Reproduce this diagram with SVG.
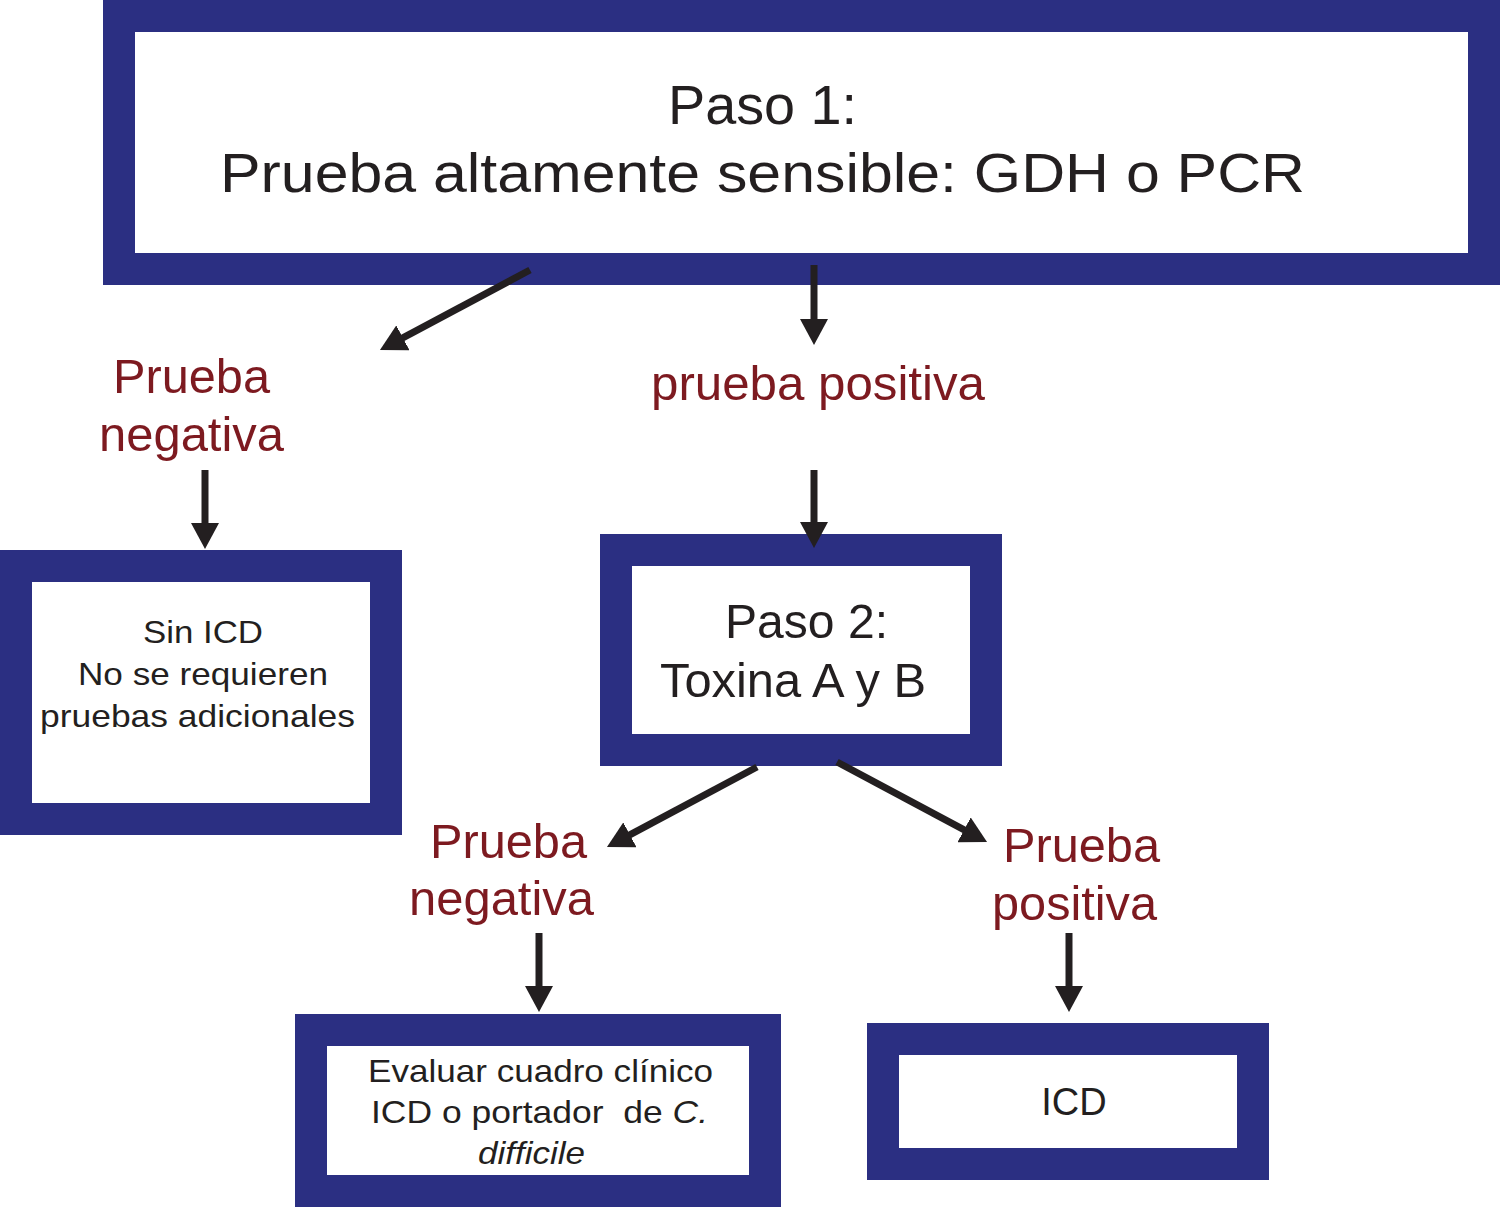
<svg xmlns="http://www.w3.org/2000/svg" width="1500" height="1207" viewBox="0 0 1500 1207">
<style>
.box{fill:#ffffff;stroke:#2b2f82;stroke-width:32}
.t{font-family:"Liberation Sans",Arial,Helvetica,sans-serif;fill:#231f20}
.r{font-family:"Liberation Sans",Arial,Helvetica,sans-serif;fill:#7d1a20;font-size:48px}
.c{stroke:#231f20;stroke-width:7;fill:none;marker-end:url(#ah)}
</style>
<defs>
<marker id="ah" viewBox="0 0 26 28" refX="6" refY="14" markerWidth="26" markerHeight="28" markerUnits="userSpaceOnUse" orient="auto">
<path d="M0,0 L26,14 L0,28 z" fill="#231f20"/>
</marker>
</defs>
<rect width="1500" height="1207" fill="#ffffff"/>
<g id="step1">
<rect class="box" x="119" y="16" width="1365" height="253"/>
<text class="t" x="668" y="124" font-size="55" textLength="189" lengthAdjust="spacingAndGlyphs">Paso 1:</text>
<text class="t" x="220" y="192" font-size="56" textLength="1085" lengthAdjust="spacingAndGlyphs">Prueba altamente sensible: GDH o PCR</text>
</g>
<g id="neg1">
<text class="r" x="113" y="393" textLength="157" lengthAdjust="spacingAndGlyphs">Prueba</text>
<text class="r" x="99" y="451" textLength="185" lengthAdjust="spacingAndGlyphs">negativa</text>
</g>
<g id="pos1">
<text class="r" x="651" y="400" textLength="334" lengthAdjust="spacingAndGlyphs">prueba positiva</text>
</g>
<g id="sinicd">
<rect class="box" x="16" y="566" width="370" height="253"/>
<text class="t" x="143" y="643" font-size="32" textLength="120" lengthAdjust="spacingAndGlyphs">Sin ICD</text>
<text class="t" x="78" y="685" font-size="32" textLength="250" lengthAdjust="spacingAndGlyphs">No se requieren</text>
<text class="t" x="40" y="727" font-size="32" textLength="315" lengthAdjust="spacingAndGlyphs">pruebas adicionales</text>
</g>
<g id="step2">
<rect class="box" x="616" y="550" width="370" height="200"/>
<text class="t" x="725" y="638" font-size="48" textLength="163" lengthAdjust="spacingAndGlyphs">Paso 2:</text>
<text class="t" x="660" y="697" font-size="48" textLength="266" lengthAdjust="spacingAndGlyphs">Toxina A y B</text>
</g>
<g id="neg2">
<text class="r" x="430" y="858" textLength="157" lengthAdjust="spacingAndGlyphs">Prueba</text>
<text class="r" x="409" y="915" textLength="185" lengthAdjust="spacingAndGlyphs">negativa</text>
</g>
<g id="pos2">
<text class="r" x="1003" y="862" textLength="157" lengthAdjust="spacingAndGlyphs">Prueba</text>
<text class="r" x="992" y="920" textLength="165" lengthAdjust="spacingAndGlyphs">positiva</text>
</g>
<g id="evaluar">
<rect class="box" x="311" y="1030" width="454" height="161"/>
<text class="t" x="368" y="1082" font-size="32" textLength="345" lengthAdjust="spacingAndGlyphs">Evaluar cuadro clínico</text>
<text class="t" x="371" y="1123" font-size="32" xml:space="preserve" textLength="337" lengthAdjust="spacingAndGlyphs">ICD o portador  de <tspan font-style="italic">C.</tspan></text>
<text class="t" x="478" y="1164" font-size="32" font-style="italic" textLength="107" lengthAdjust="spacingAndGlyphs">difficile</text>
</g>
<g id="icd">
<rect class="box" x="883" y="1039" width="370" height="125"/>
<text class="t" x="1074" y="1115" font-size="38" text-anchor="middle">ICD</text>
</g>
<g id="connectors">
<line class="c" x1="530" y1="270" x2="397.6" y2="340.6"/>
<line class="c" x1="814" y1="265" x2="814" y2="325"/>
<line class="c" x1="205" y1="470" x2="205" y2="529"/>
<line class="c" x1="814" y1="470" x2="814" y2="528"/>
<line class="c" x1="757" y1="767" x2="624.6" y2="837.6"/>
<line class="c" x1="837" y1="762" x2="969.4" y2="832.6"/>
<line class="c" x1="539" y1="933" x2="539" y2="992"/>
<line class="c" x1="1069" y1="933" x2="1069" y2="992"/>
</g>
</svg>
